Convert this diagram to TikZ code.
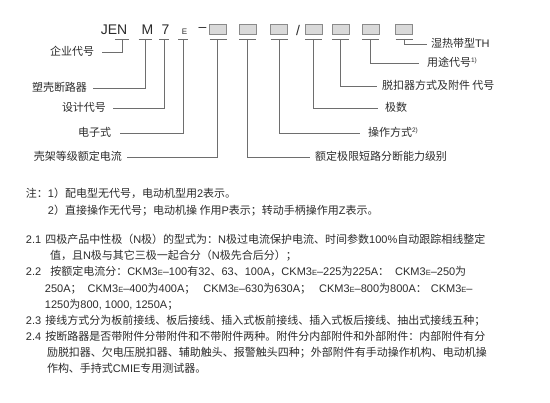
\documentclass[tikz,border=0pt]{standalone}
\usepackage{fontspec}
\setmainfont{Noto Sans CJK SC}
\newfontfamily\latfont{Liberation Sans}
\XeTeXlinebreaklocale "zh"
\XeTeXlinebreakskip=0.3pt plus 8pt
\definecolor{txt}{HTML}{2B2B2B}
\definecolor{lnc}{HTML}{6E6E6E}
\definecolor{bxf}{HTML}{D9D9D9}
\definecolor{bxd}{HTML}{8A8A8A}
\newcommand\lat[1]{{\latfont #1}}
\newcommand\smE{{\latfont\fontsize{7.5}{7.5}\selectfont E}}
\newcommand\supnote[1]{\raisebox{4pt}{\latfont\fontsize{6.5}{6.5}\selectfont #1}}
\tikzset{
  every node/.style={inner sep=0pt, outer sep=0pt, text=txt},
  codech/.style={font=\latfont\fontsize{14}{14}\selectfont},
  codebox/.style={draw=bxd, fill=bxf, line width=0.6pt, minimum width=17pt, minimum height=10pt},
  ulin/.style={draw=lnc, line width=0.7pt},
  conn/.style={draw=lnc, line width=0.7pt},
  lab/.style={font=\fontsize{11}{13}\selectfont, text height=8.5pt, text depth=1.5pt},
  labl/.style={lab, anchor=east},
  labr/.style={lab, anchor=west},
  note/.style={font=\fontsize{11}{13}\selectfont, anchor=base west},
  para/.style={font=\fontsize{11}{13}\selectfont, anchor=base west}
}
\begin{document}
\begin{tikzpicture}[x=1pt,y=-1pt]
\useasboundingbox (0,0) rectangle (550,403);
% model code
\node[codech] (jen) at (114,30) {JEN};
\node[codech] (m) at (147.5,30) {M};
\node[codech] (seven) at (165.5,30) {7};
\node[font=\latfont\fontsize{8}{8}\selectfont] (e) at (184.5,31.5) {E};
\node[codech] (dash) at (202.5,29.5) {–};
\node[codebox] (b1) at (218,29) {};
\node[codebox] (b2) at (247.5,29) {};
\node[codebox] (b3) at (279,29) {};
\node[codech] (slash) at (298,30) {/};
\node[codebox] (b4) at (313.5,29) {};
\node[codebox] (b5) at (340.5,29) {};
\node[codebox] (b6) at (370.5,29) {};
\node[codebox] (b7) at (404,29) {};
% underline anchor points
\coordinate (u0) at (122,39);
\coordinate (u1) at (145,39);
\coordinate (u2) at (164,39);
\coordinate (u3) at (183,39);
\coordinate (u4) at (217,39);
\coordinate (u5) at (247.5,39);
\coordinate (u6) at (279,39);
\coordinate (u7) at (313.5,39);
\coordinate (u8) at (340.5,39);
\coordinate (u9) at (370.5,39);
\coordinate (u10) at (404,39);
\foreach \u/\w in {u0/7,u1/6.5,u2/5,u3/5}{
  \draw[ulin] ([xshift=-\w pt]\u) -- ([xshift=\w pt]\u);
}
\draw[ulin] (b1.west |- u4) -- (b1.east |- u4);
\draw[ulin] (b2.west |- u5) -- (b2.east |- u5);
\draw[ulin] (b3.west |- u6) -- (b3.east |- u6);
\draw[ulin] (b4.west |- u7) -- (b4.east |- u7);
\draw[ulin] (b5.west |- u8) -- (b5.east |- u8);
\draw[ulin] (b6.west |- u9) -- (b6.east |- u9);
\draw[ulin] (b7.west |- u10) -- (b7.east |- u10);
% left labels
\node[labl, inner xsep=8pt] (l0) at (102,52) {企业代号};
\node[labl, inner xsep=6pt] (l1) at (93,88) {塑壳断路器};
\node[labl, inner xsep=7pt] (l2) at (113,108) {设计代号};
\node[labl, inner xsep=9pt] (l3) at (120,133) {电子式};
\node[labl, inner xsep=5pt] (l4) at (127,157) {壳架等级额定电流};
% right labels
\node[labr, inner xsep=4pt] (r0) at (427,44) {湿热带型\lat{TH}};
\node[labr, inner xsep=8pt] (r1) at (419,63) {用途代号\supnote{1)}};
\node[labr, inner xsep=5pt] (r2) at (377,86) {脱扣器方式及附件 代号};
\node[labr, inner xsep=7pt] (r3) at (378,108) {极数};
\node[labr, inner xsep=8pt] (r4) at (360,133) {操作方式\supnote{2)}};
\node[labr, inner xsep=5pt] (r5) at (310,157) {额定极限短路分断能力级别};
% connectors
\draw[conn] (u0) |- (l0.east);
\draw[conn] (u1) |- (l1.east);
\draw[conn] (u2) |- (l2.east);
\draw[conn] (u3) |- (l3.east);
\draw[conn] (u4) |- (l4.east);
\draw[conn] (u5) |- (r5.west);
\draw[conn] (u6) |- (r4.west);
\draw[conn] (u7) |- (r3.west);
\draw[conn] (u8) |- (r2.west);
\draw[conn] (u9) |- (r1.west);
\draw[conn] (u10) |- (r0.west);
% notes
\node[note] (n1) at (26,198) {注：\lat{1}）配电型无代号，电动机型用\lat{2}表示。};
\node[note] (n2) at (48,215) {\lat{2}）直接操作无代号；电动机操 作用\lat{P}表示；转动手柄操作用\lat{Z}表示。};
% paragraphs
\node[para] (p1) at (26,244) {\hbox to 495pt{\lat{2.1}\kern4pt 四极产品中性极（\lat{N}极）的型式为：\lat{N}极过电流保护电流、时间参数\lat{100\%}自动跟踪相线整定}};
\node[para] (p2) at (50,260) {值，且\lat{N}极与其它三极一起合分（\lat{N}极先合后分）；};
\node[para] (p3) at (26,276) {\hbox to 494pt{\lat{2.2}\kern9pt 按额定电流分：\lat{CKM3\smE–100}有\lat{32}、\lat{63}、\lat{100A}，\lat{CKM3\smE–225}为\lat{225A}：\kern6pt\lat{CKM3\smE–250}为}};
\node[para] (p4) at (45,293) {\hbox to 467pt{\lat{250A}；\kern6pt\lat{CKM3\smE–400}为\lat{400A}；\kern8pt\lat{CKM3\smE–630}为\lat{630A}；\kern8pt\lat{CKM3\smE–800}为\lat{800A}：\kern4pt\lat{CKM3\smE–}}};
\node[para] (p5) at (45,309) {\lat{1250}为\lat{800, 1000, 1250A}；};
\node[para] (p6) at (26,325) {\hbox to 486pt{\lat{2.3}\kern4pt 接线方式分为板前接线、板后接线、插入式板前接线、插入式板后接线、抽出式接线五种；}};
\node[para] (p7) at (26,341) {\hbox to 494pt{\lat{2.4}\kern4pt 按断路器是否带附件分带附件和不带附件两种。附件分内部附件和外部附件：内部附件有分}};
\node[para] (p8) at (47,357) {\hbox to 473pt{励脱扣器、欠电压脱扣器、辅助触头、报警触头四种；外部附件有手动操作机构、电动机操}};
\node[para] (p9) at (47,373) {作构、手持式\lat{CMIE}专用测试器。};
\end{tikzpicture}
\end{document}
